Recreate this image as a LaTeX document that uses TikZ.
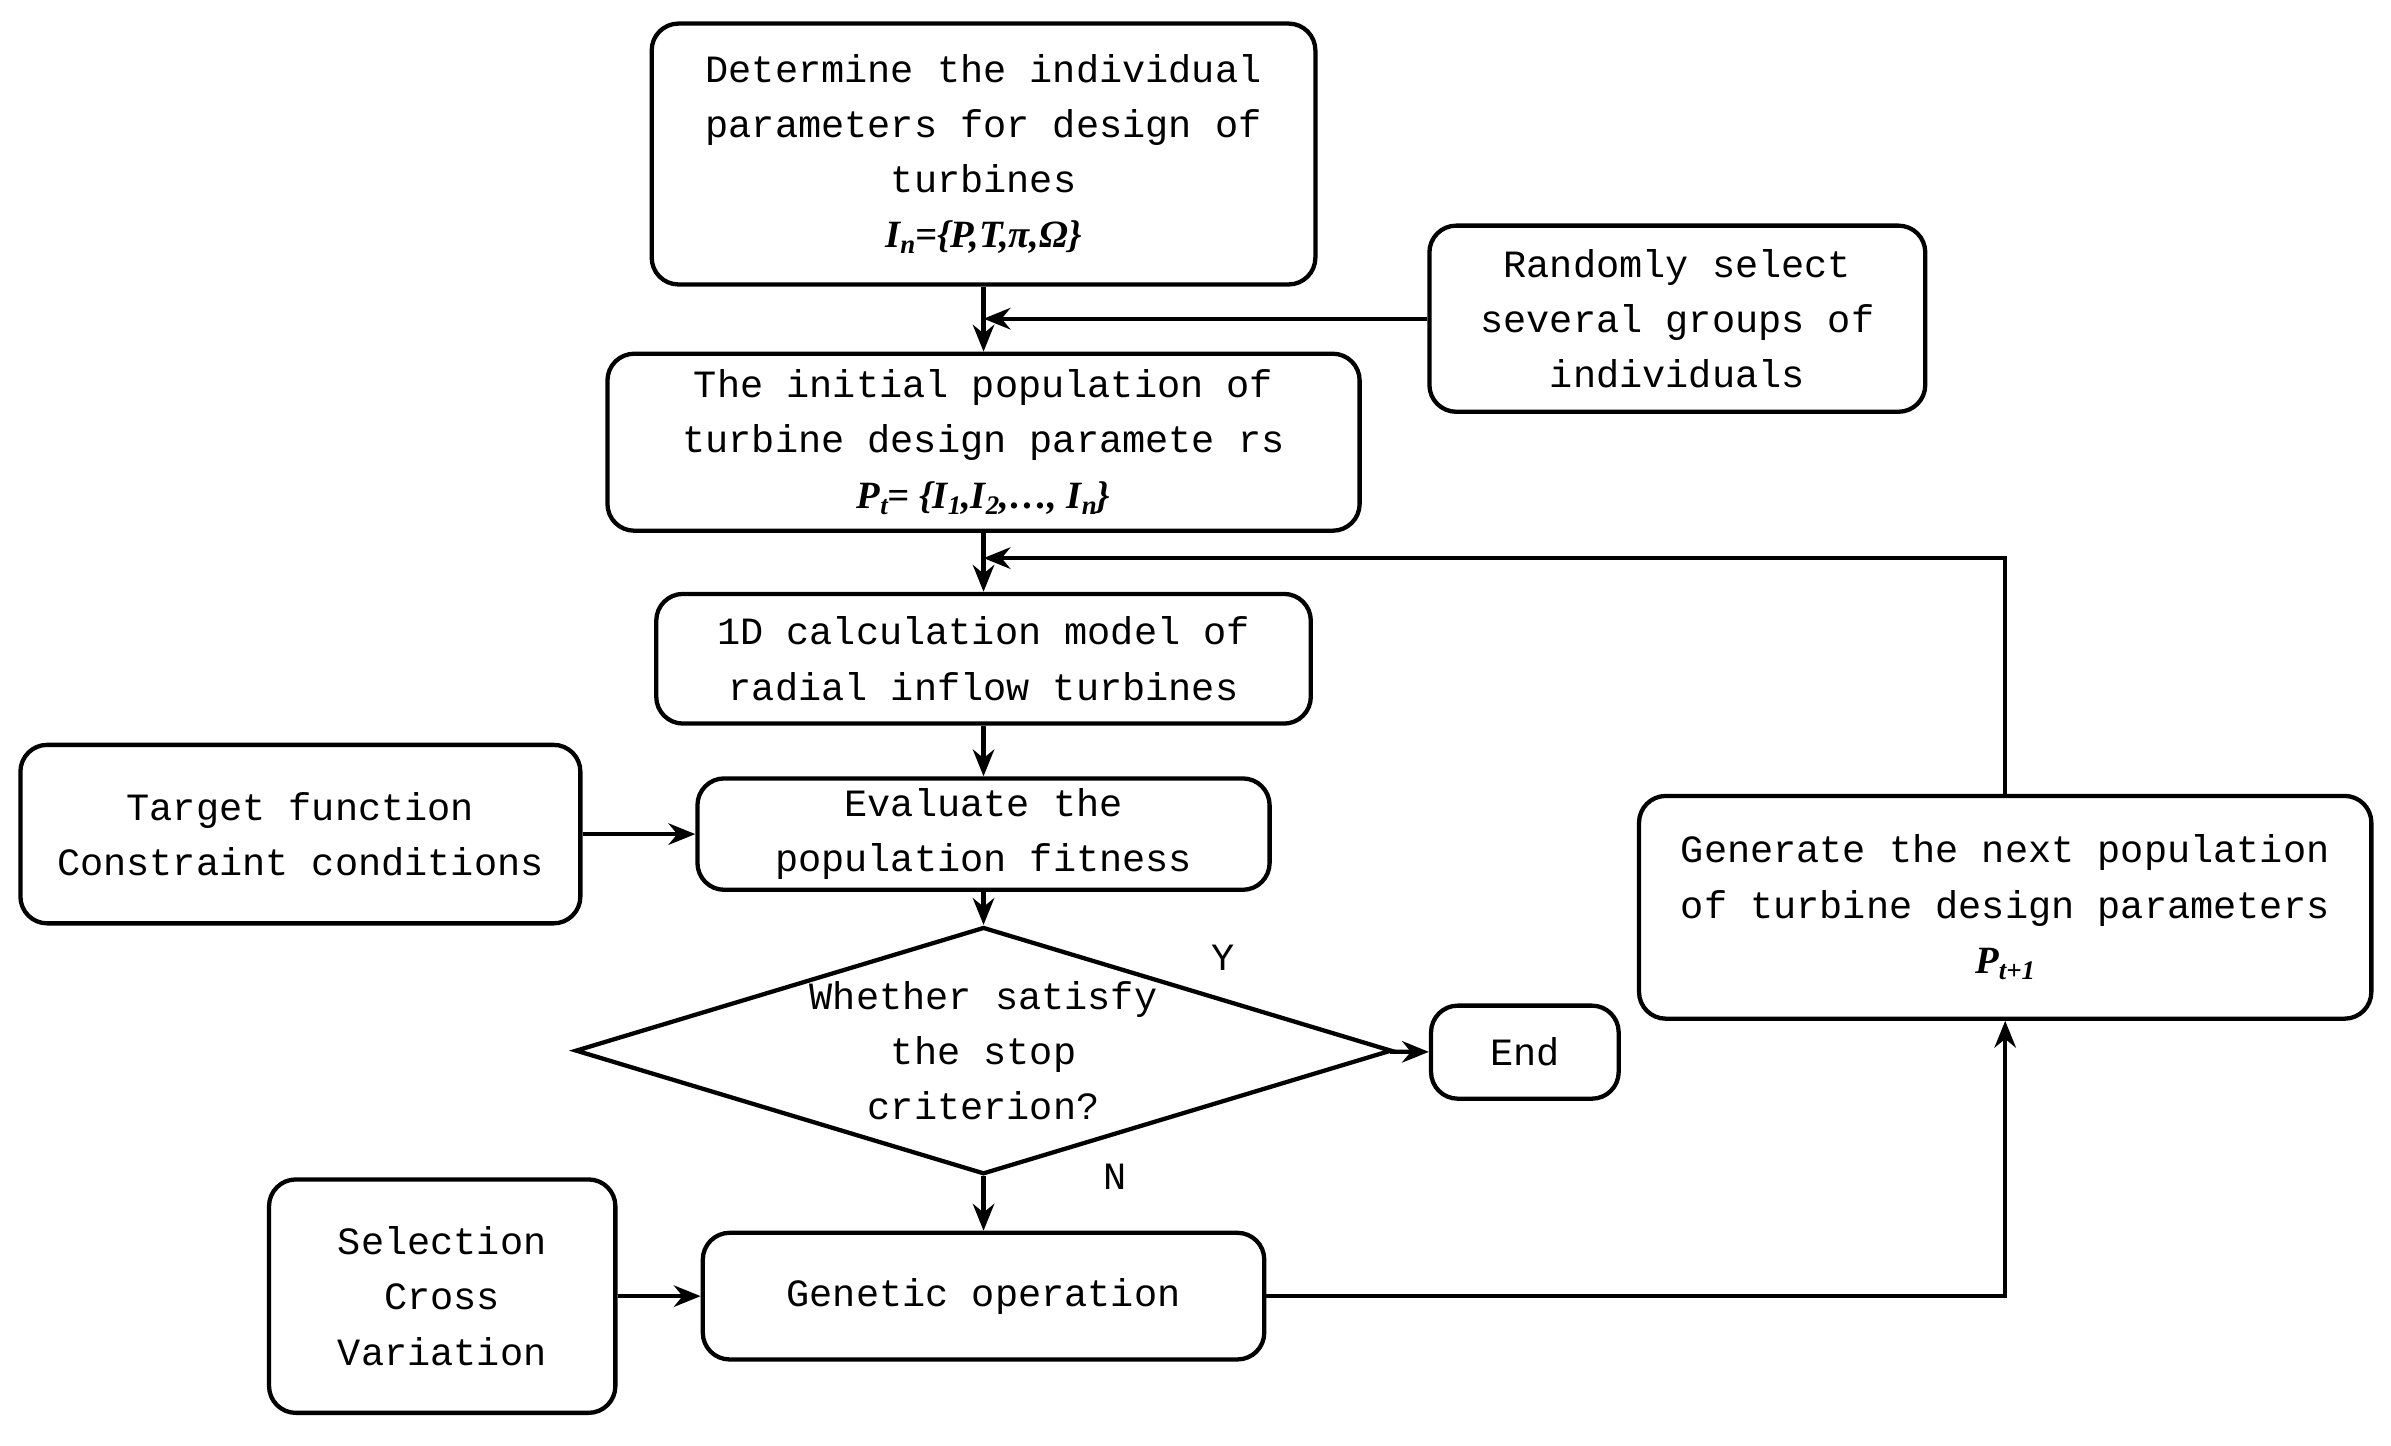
\documentclass[tikz,border=0pt]{standalone}
\usepackage{fontspec}
\setmainfont{Liberation Mono}
\newfontfamily\tms{Liberation Serif}
\usetikzlibrary{shapes.geometric,arrows.meta}
\newcommand\lsb[1]{\raisebox{-0.35ex}{\fontsize{5}{5}\selectfont #1}}
\newcommand\mth[1]{{\tms\bfseries\itshape #1}}
\begin{document}
\begin{tikzpicture}[x=0.01cm,y=-0.01cm,
  box/.style={draw,line width=0.8pt,rounded corners=5pt,align=center,inner sep=0pt,font=\fontsize{7.2}{10.3}\selectfont},
  arr/.style={line width=0.8pt,-{Stealth[length=5pt,width=4pt]}},
  lab/.style={font=\fontsize{7.2}{10.3}\selectfont}]
\path[use as bounding box] (0,0) rectangle (1568,948);
\node[box,minimum width=4.35cm,minimum height=1.71cm] (A) at (645,101) {Determine the individual\\parameters for design of\\turbines\\\mth{I\lsb{n}=\{P,T,π,Ω\}}};
\node[box,minimum width=3.25cm,minimum height=1.22cm] (R) at (1100,209) {Randomly select\\several groups of\\individuals};
\node[box,minimum width=4.93cm,minimum height=1.16cm] (B) at (645,290) {The initial population of\\turbine design paramete rs\\\mth{P\lsb{t}= \{I\lsb{1},I\lsb{2},…, I\lsb{n}\}}};
\node[box,minimum width=4.29cm,minimum height=0.85cm] (C) at (645,432) {1D calculation model of\\radial inflow turbines};
\node[box,minimum width=3.67cm,minimum height=1.17cm] (T) at (197,547) {Target function\\Constraint conditions};
\node[box,minimum width=3.75cm,minimum height=0.73cm] (E) at (645,547) {Evaluate the\\population fitness};
\node[draw,line width=0.8pt,diamond,minimum width=5.35cm,minimum height=1.62cm,inner sep=0pt] (D) at (645,689) {};
\node[lab,align=center] at (D) {Whether satisfy\\the stop\\criterion?};
\node[box,minimum width=1.23cm,minimum height=0.61cm] (End) at (1000,690) {End};
\node[box,minimum width=4.80cm,minimum height=1.46cm] (G) at (1315,595) {Generate the next population\\of turbine design parameters\\\mth{P\lsb{t+1}}};
\node[box,minimum width=2.27cm,minimum height=1.53cm] (S) at (290,850) {Selection\\Cross\\Variation};
\node[box,minimum width=3.68cm,minimum height=0.83cm] (Gen) at (645,850) {Genetic operation};
\coordinate (m1) at (645,209);
\coordinate (m2) at (645,366);
\draw[arr] (A) -- (B);
\draw[arr] (R) -- (m1);
\draw[arr] (B) -- (C);
\draw[arr] (C) -- (E);
\draw[arr] (T) -- (E);
\draw[arr] (E) -- (D);
\draw[arr] (D) -- (End);
\draw[arr] (D) -- (Gen);
\draw[arr] (S) -- (Gen);
\draw[arr] (Gen) -| (G);
\draw[arr] (G.north) |- (m2);
\node[lab] at (802,628) {Y};
\node[lab] at (731,772) {N};
\end{tikzpicture}
\end{document}
